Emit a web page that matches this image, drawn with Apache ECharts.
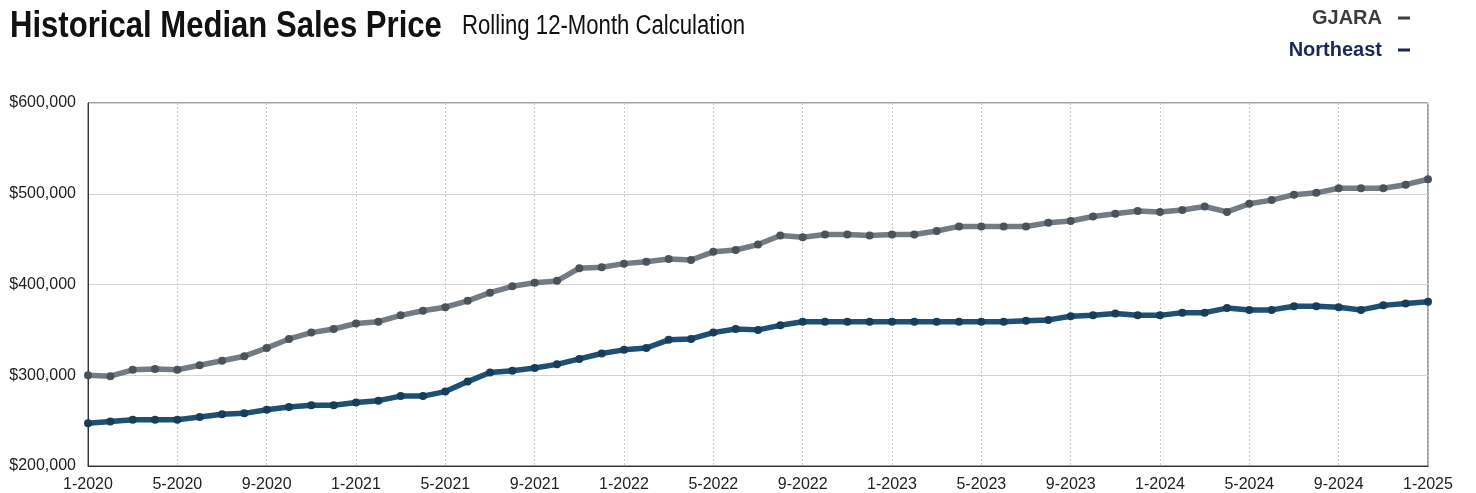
<!DOCTYPE html>
<html>
<head>
<meta charset="utf-8">
<script src="https://cdn.jsdelivr.net/npm/echarts@6/dist/echarts.min.js"></script>
<style>
html,body{margin:0;padding:0;background:#fff;}
#chart{width:1476px;height:493px;}
</style>
</head>
<body>
<div id="chart"></div>
<script>
const months = [
 '1-2020','2-2020','3-2020','4-2020','5-2020','6-2020','7-2020','8-2020','9-2020','10-2020','11-2020','12-2020',
 '1-2021','2-2021','3-2021','4-2021','5-2021','6-2021','7-2021','8-2021','9-2021','10-2021','11-2021','12-2021',
 '1-2022','2-2022','3-2022','4-2022','5-2022','6-2022','7-2022','8-2022','9-2022','10-2022','11-2022','12-2022',
 '1-2023','2-2023','3-2023','4-2023','5-2023','6-2023','7-2023','8-2023','9-2023','10-2023','11-2023','12-2023',
 '1-2024','2-2024','3-2024','4-2024','5-2024','6-2024','7-2024','8-2024','9-2024','10-2024','11-2024','12-2024',
 '1-2025'
];
const gjara = [
 300000,299000,306000,307000,306000,311000,316000,321000,330000,340000,347000,351000,
 357000,359000,366000,371000,375000,382000,391000,398000,402000,404000,418000,419000,
 423000,425000,428000,427000,436000,438000,444000,454000,452000,455000,455000,454000,
 455000,455000,459000,464000,464000,464000,464000,468000,470000,475000,478000,481000,
 480000,482000,486000,480000,489000,493000,499000,501000,506000,506000,506000,510000,
 516000
];
const northeast = [
 247000,249000,251000,251000,251000,254000,257000,258000,262000,265000,267000,267000,
 270000,272000,277000,277000,282000,293000,303000,305000,308000,312000,318000,324000,
 328000,330000,339000,340000,347000,351000,350000,355000,359000,359000,359000,359000,
 359000,359000,359000,359000,359000,359000,360000,361000,365000,366000,368000,366000,
 366000,369000,369000,374000,372000,372000,376000,376000,375000,372000,377000,379000,
 381000
];
const yTicks = { min: 200000, max: 600000, step: 100000 };
const titleText = 'Historical Median Sales Price';
const subtitleText = 'Rolling 12-Month Calculation';

const chart = echarts.init(document.getElementById('chart'), null, {renderer:'canvas'});
chart.setOption({
  backgroundColor:'#fff',
  animation:false,
  graphic:[
    {type:'text', left:10, top:8, scaleX:0.84,
     style:{text:titleText, font:'bold 37px "Liberation Sans", Arial, sans-serif', fill:'#111'}},
    {type:'text', left:462, top:13, scaleX:0.82,
     style:{text:subtitleText, font:'normal 27px "Liberation Sans", Arial, sans-serif', fill:'#111'}}
  ],
  legend:{
    orient:'vertical', right:61, top:3, align:'right', itemGap:12,
    itemWidth:12, itemHeight:3, icon:'rect',
    textStyle:{fontFamily:'"Liberation Sans",Arial',fontWeight:'bold',fontSize:20, padding:[0,11,0,0]},
    data:[
      {name:'GJARA', textStyle:{color:'#3a3d42'}, itemStyle:{color:'#3a3d42'}},
      {name:'Northeast', textStyle:{color:'#1b2757'}, itemStyle:{color:'#1b2757'}}
    ]
  },
  grid:{left:88, right:48, top:103, bottom:26, show:true, borderColor:'#444', borderWidth:1, backgroundColor:'transparent'},
  xAxis:{
    type:'category', data:months, boundaryGap:false,
    axisLine:{show:true, lineStyle:{color:'#333', width:1}},
    axisTick:{show:false},
    axisLabel:{interval:3, color:'#222', fontFamily:'"Liberation Sans",Arial', fontSize:16, margin:11},
    splitLine:{show:true, interval:3, lineStyle:{color:'#c8c8c8', width:1, type:[2,2]}}
  },
  yAxis:{
    type:'value', min:yTicks.min, max:yTicks.max, interval:yTicks.step,
    axisLine:{show:true, lineStyle:{color:'#333', width:1}},
    axisTick:{show:false},
    axisLabel:{color:'#222', fontFamily:'"Liberation Sans",Arial', fontSize:16, margin:12,
      formatter:v=>'$'+v.toLocaleString('en-US')},
    splitLine:{show:true, lineStyle:{color:'#d4d4d4', width:1}}
  },
  series:[
    {name:'GJARA', type:'line', data:gjara, symbol:'circle', symbolSize:8,
     lineStyle:{color:'#737b85', width:5.5},
     itemStyle:{color:'#4b525b'}, z:3},
    {name:'Northeast', type:'line', data:northeast, symbol:'circle', symbolSize:8,
     lineStyle:{color:'#1e5073', width:5.5},
     itemStyle:{color:'#173d5a'}, z:4}
  ]
});
</script>
</body>
</html>
